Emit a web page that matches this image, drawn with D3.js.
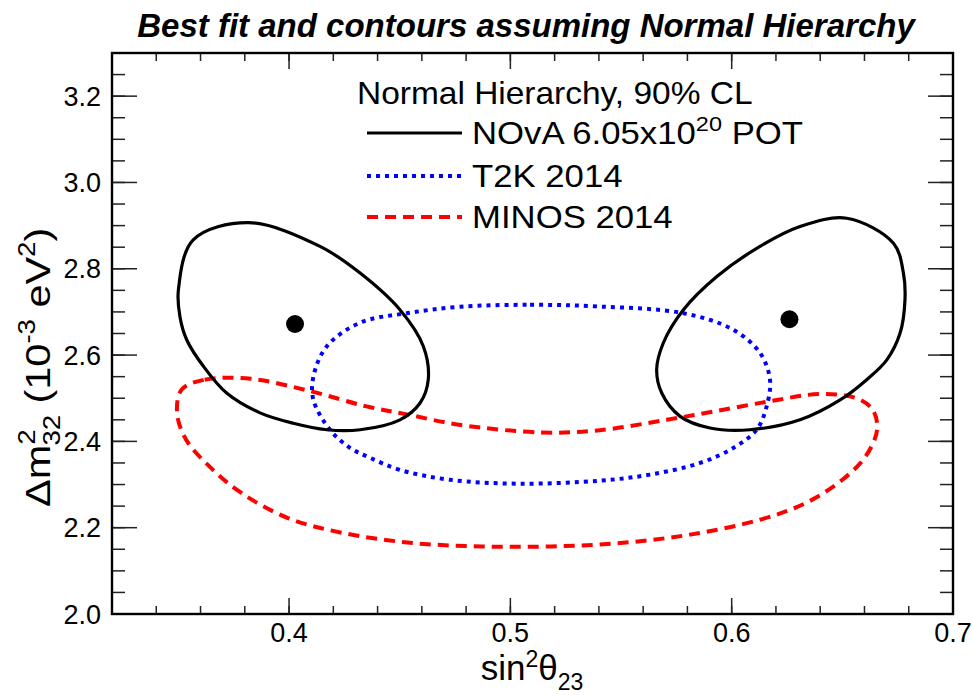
<!DOCTYPE html>
<html>
<head>
<meta charset="utf-8">
<script src="https://cdn.jsdelivr.net/npm/d3@7"></script>
<style>
  html, body { margin: 0; padding: 0; background: #fff; }
  svg { display: block; font-family: "Liberation Sans", Arial, Helvetica, sans-serif; }
</style>
</head>
<body>
<svg id="chart" width="973" height="695"></svg>
<script>
// 90% CL contours in (sin^2 theta23, dm^2_32 [1e-3 eV^2])
const novaLower = [
  [0.3816, 2.907], [0.4140, 2.852], [0.4321, 2.790], [0.4501, 2.705],
  [0.4607, 2.620], [0.4629, 2.543], [0.4592, 2.489], [0.4501, 2.450],
  [0.4321, 2.427], [0.4170, 2.427], [0.4019, 2.442], [0.3869, 2.466],
  [0.3718, 2.512], [0.3613, 2.574], [0.3538, 2.635], [0.3507, 2.689],
  [0.3500, 2.751], [0.3567, 2.867]
];
const novaUpper = [
  [0.6520, 2.917], [0.6731, 2.859], [0.6776, 2.790], [0.6783, 2.728],
  [0.6761, 2.651], [0.6701, 2.589], [0.6610, 2.543], [0.6490, 2.496],
  [0.6309, 2.450], [0.6083, 2.427], [0.5902, 2.431], [0.5767, 2.458],
  [0.5684, 2.512], [0.5661, 2.566], [0.5691, 2.628], [0.5782, 2.705],
  [0.5933, 2.782], [0.6128, 2.852], [0.6309, 2.898]
];
const t2k = [
  [0.4773, 2.712], [0.5089, 2.7165], [0.5405, 2.7125], [0.5782, 2.697],
  [0.6006, 2.659], [0.6128, 2.605], [0.6173, 2.543], [0.6158, 2.481],
  [0.6113, 2.427], [0.6008, 2.385], [0.5857, 2.350], [0.5631, 2.323],
  [0.5405, 2.309], [0.5044, 2.302], [0.4727, 2.311], [0.4501, 2.334],
  [0.4366, 2.362], [0.4275, 2.385], [0.4185, 2.427], [0.4110, 2.496],
  [0.4110, 2.550], [0.4170, 2.620], [0.4321, 2.675], [0.4532, 2.697]
];
const minos = [
  [0.3515, 2.520], [0.3619, 2.543], [0.3828, 2.545], [0.4099, 2.516],
  [0.4350, 2.481], [0.4538, 2.462], [0.4768, 2.4385], [0.5143, 2.4207],
  [0.5394, 2.4253], [0.5707, 2.450], [0.5916, 2.469], [0.6167, 2.4925],
  [0.6396, 2.5096], [0.6563, 2.5003], [0.6637, 2.4733], [0.6657, 2.427],
  [0.6605, 2.365], [0.6500, 2.311], [0.6334, 2.257], [0.6125, 2.218],
  [0.5812, 2.184], [0.5498, 2.1645], [0.5185, 2.1566], [0.4872, 2.1566],
  [0.4559, 2.1645], [0.4245, 2.1876], [0.3995, 2.2224], [0.3786, 2.280],
  [0.3640, 2.342], [0.3535, 2.404], [0.3494, 2.4656]
];
// best-fit points
const bestFits = [[0.4027, 2.672], [0.6261, 2.683]];

// axis ticks
const xMajor = [0.4, 0.5, 0.6, 0.7];
const xMajorLabels = ["0.4", "0.5", "0.6", "0.7"];
const yMajor = [2.0, 2.2, 2.4, 2.6, 2.8, 3.0, 3.2];
const yMajorLabels = ["2.0", "2.2", "2.4", "2.6", "2.8", "3.0", "3.2"];
const xMinor = d3.range(16, 36).map(i => i * 0.02);
const yMinor = d3.range(40, 67).map(i => i * 0.05);

const legendHeader = "Normal Hierarchy, 90% CL";
const legendEntries = [
  { key: "nova", label: ["NOvA 6.05x10", "20", " POT"] },
  { key: "t2k", label: ["T2K 2014"] },
  { key: "minos", label: ["MINOS 2014"] }
];

const styles = {
  nova: { stroke: "#000", width: 3.2, dash: null },
  t2k: { stroke: "#0000ff", width: 4, dash: "4,5" },
  minos: { stroke: "#ff0000", width: 4, dash: "11,7" }
};

const L = 112, R = 953, T = 53, B = 614;
const svg = d3.select("#chart");
const x = d3.scaleLinear().domain([0.32, 0.7]).range([L, R]);
const y = d3.scaleLinear().domain([2.0, 3.3]).range([B, T]);

const line = d3.line().x(d => x(d[0])).y(d => y(d[1]))
  .curve(d3.curveCatmullRomClosed.alpha(0.5));

const plot = svg.append("g");
plot.append("clipPath").attr("id", "clip").append("rect")
  .attr("x", L).attr("y", T).attr("width", R - L).attr("height", B - T);
const curves = plot.append("g").attr("clip-path", "url(#clip)");

function drawContour(data, st) {
  const p = curves.append("path").attr("d", line(data))
    .attr("fill", "none").attr("stroke", st.stroke)
    .attr("stroke-width", st.width).attr("stroke-linejoin", "round");
  if (st.dash) p.attr("stroke-dasharray", st.dash);
}
drawContour(minos, styles.minos);
drawContour(t2k, styles.t2k);
drawContour(novaLower, styles.nova);
drawContour(novaUpper, styles.nova);

curves.selectAll("circle.bf").data(bestFits).join("circle")
  .attr("class", "bf")
  .attr("cx", d => x(d[0])).attr("cy", d => y(d[1])).attr("r", 9)
  .attr("fill", "#000");

// frame ticks (inward, on all four sides)
const tk = svg.append("g").attr("stroke", "#222").attr("stroke-width", 1.5);
function xTicks(vals, len) {
  vals.forEach(v => {
    const px = x(v);
    tk.append("line").attr("x1", px).attr("x2", px).attr("y1", B).attr("y2", B - len);
    tk.append("line").attr("x1", px).attr("x2", px).attr("y1", T).attr("y2", T + len);
  });
}
function yTicks(vals, len) {
  vals.forEach(v => {
    const py = y(v);
    tk.append("line").attr("x1", L).attr("x2", L + len).attr("y1", py).attr("y2", py);
    tk.append("line").attr("x1", R).attr("x2", R - len).attr("y1", py).attr("y2", py);
  });
}
xTicks(xMinor, 8);
xTicks(xMajor, 16);
yTicks(yMinor, 13);
yTicks(yMajor, 25);

svg.append("rect").attr("x", L).attr("y", T).attr("width", R - L).attr("height", B - T)
  .attr("fill", "none").attr("stroke", "#000").attr("stroke-width", 2.4);

// tick labels
svg.append("g").selectAll("text").data(xMajor).join("text")
  .attr("x", d => x(d)).attr("y", 642)
  .attr("text-anchor", "middle").attr("font-size", 27)
  .text((d, i) => xMajorLabels[i]);
svg.append("g").selectAll("text").data(yMajor).join("text")
  .attr("x", 101).attr("y", d => y(d)).attr("dy", "0.36em")
  .attr("text-anchor", "end").attr("font-size", 27)
  .text((d, i) => yMajorLabels[i]);

// axis titles
const xt = svg.append("text").attr("x", 532).attr("y", 680)
  .attr("text-anchor", "middle").attr("font-size", 35);
xt.append("tspan").text("sin");
xt.append("tspan").attr("dy", -13).attr("font-size", 23).text("2");
xt.append("tspan").attr("dy", 13).text("θ");
xt.append("tspan").attr("dy", 10).attr("font-size", 23).text("23");

const yt = svg.append("g").attr("transform", "translate(50,507) rotate(-90) scale(1.15,1)")
  .append("text").attr("font-size", 36);
yt.append("tspan").text("Δm");
yt.append("tspan").attr("dy", -15).attr("font-size", 24).text("2");
yt.append("tspan").attr("dx", -14).attr("dy", 25).attr("font-size", 24).text("32");
yt.append("tspan").attr("dy", -10).text(" (10");
yt.append("tspan").attr("dy", -15).attr("font-size", 24).text("-3");
yt.append("tspan").attr("dy", 15).text(" eV");
yt.append("tspan").attr("dy", -15).attr("font-size", 24).text("2");
yt.append("tspan").attr("dy", 15).text(")");

// title
svg.append("text").attr("x", 526).attr("y", 37).attr("text-anchor", "middle")
  .attr("font-size", 33).attr("font-weight", "bold").attr("font-style", "italic")
  .text("Best fit and contours assuming Normal Hierarchy");

// legend
const lg = svg.append("g");
lg.append("g").attr("transform", "translate(357,104) scale(1.08,1)")
  .append("text").attr("font-size", 31).text(legendHeader);
const rowY = [133, 176, 217];
legendEntries.forEach((e, i) => {
  const st = styles[e.key];
  const l = lg.append("line").attr("x1", 367).attr("x2", 462)
    .attr("y1", rowY[i]).attr("y2", rowY[i])
    .attr("stroke", st.stroke).attr("stroke-width", st.width);
  if (st.dash) l.attr("stroke-dasharray", st.dash);
  const t = lg.append("g").attr("transform", `translate(472,${rowY[i] + 11}) scale(1.12,1)`)
    .append("text").attr("font-size", 31);
  t.append("tspan").text(e.label[0]);
  if (e.label.length > 1) {
    t.append("tspan").attr("dy", -13).attr("font-size", 21).text(e.label[1]);
    t.append("tspan").attr("dy", 13).text(e.label[2]);
  }
});
</script>
</body>
</html>
